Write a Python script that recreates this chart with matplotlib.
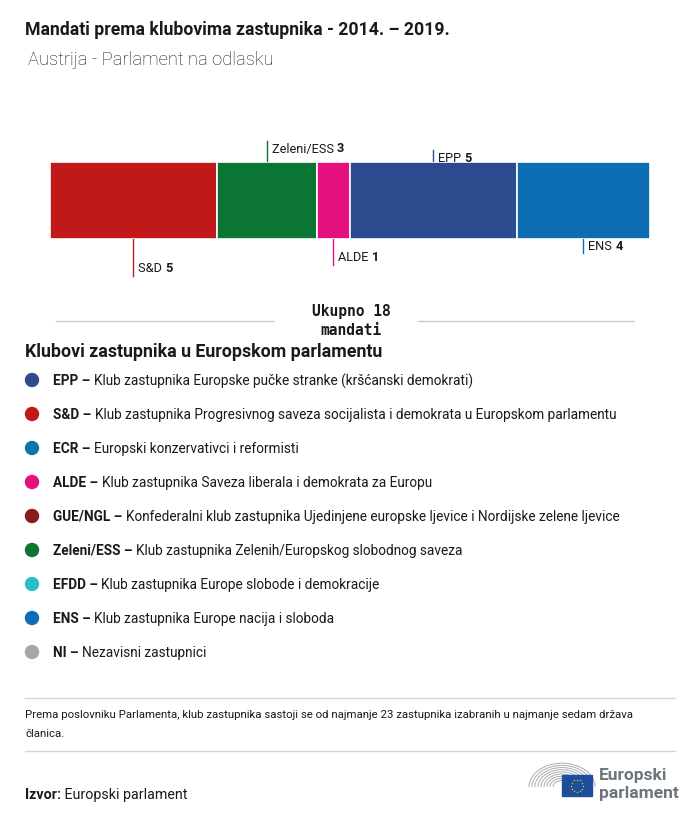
import numpy as np
import matplotlib.pyplot as plt
from matplotlib.patches import Circle, Rectangle, Arc

# podaci
groups = ['S&D', 'Zeleni/ESS', 'ALDE', 'EPP', 'ENS']
seats = [5, 3, 1, 5, 4]
bar_colors = ['#C1191A', '#0B7533', '#E3107E', '#2C4B8E', '#0C6DB3']
label_side = ['below', 'above', 'below', 'above', 'below']
leader_px = [37, 21, 26, 12, 14]

legend_codes = ['EPP', 'S&D', 'ECR', 'ALDE', 'GUE/NGL', 'Zeleni/ESS', 'EFDD', 'ENS', 'NI']
legend_texts = [
    'Klub zastupnika Europske pučke stranke (kršćanski demokrati)',
    'Klub zastupnika Progresivnog saveza socijalista i demokrata u Europskom parlamentu',
    'Europski konzervativci i reformisti',
    'Klub zastupnika Saveza liberala i demokrata za Europu',
    'Konfederalni klub zastupnika Ujedinjene europske ljevice i Nordijske zelene ljevice',
    'Klub zastupnika Zelenih/Europskog slobodnog saveza',
    'Klub zastupnika Europe slobode i demokracije',
    'Klub zastupnika Europe nacija i sloboda',
    'Nezavisni zastupnici',
]
legend_colors = ['#2C4B8E', '#C1191A', '#0C77A3', '#E3107E', '#8E1A17',
                 '#0B7533', '#2FBDC4', '#0C6DB3', '#A6A6A6']

plt.rcParams['font.family'] = ['Roboto', 'DejaVu Sans']
TXT = '#1A1A1A'

fig = plt.figure(figsize=(7, 8.2), dpi=100)
ax = fig.add_axes([0, 0, 1, 1])
ax.set_xlim(0, 700)
ax.set_ylim(820, 0)
ax.axis('off')
renderer = fig.canvas.get_renderer()


def rich(x, y, parts, size, va='center'):
    # nizanje dijelova teksta (normalno/podebljano) jedan za drugim
    for s, w in parts:
        t = ax.text(x, y, s, fontsize=size, fontweight=w, color=TXT, va=va, ha='left')
        x = t.get_window_extent(renderer).x1
    return x


# naslov
ax.text(25, 30, 'Mandati prema klubovima zastupnika - 2014. – 2019.', fontsize=12.7,
        fontweight='bold', color=TXT, va='center')
ax.text(28, 60, 'Austrija - Parlament na odlasku', fontsize=13.2, fontweight='light',
        color=TXT, va='center')

# traka
bx0, bx1, by0, by1 = 50, 650, 163, 240
bax = fig.add_axes([bx0 / 700, 1 - by1 / 820, (bx1 - bx0) / 700, (by1 - by0) / 820])
total = sum(seats)
lefts = np.concatenate([[0], np.cumsum(seats)[:-1]])
bax.barh(0.5, seats, left=lefts, height=1, color=bar_colors, edgecolor='white', linewidth=1.2)
bax.set_xlim(0, total)
bax.set_ylim(0, 1)
bax.axis('off')

px_per_seat = (bx1 - bx0) / total
for g, n, l, c, side, lp in zip(groups, seats, lefts, bar_colors, label_side, leader_px):
    cx = bx0 + (l + n / 2) * px_per_seat
    if side == 'below':
        ax.plot([cx, cx], [by1, by1 + lp], color=c, lw=1)
        ty = by1 + lp - 8
    else:
        ax.plot([cx, cx], [by0, by0 - lp], color=c, lw=1)
        ty = by0 - lp + 7
    rich(cx + 5, ty, [(g + ' ', 'normal'), (str(n), 'bold')], 9.2)

# ukupno
ax.plot([56, 273], [322, 322], color='#CCCCCC', lw=1)
ax.plot([418, 634], [322, 322], color='#CCCCCC', lw=1)
ax.text(351, 321, 'Ukupno %d\nmandati' % total, family='DejaVu Sans Mono', fontsize=10.5,
        fontweight='bold', color=TXT, ha='center', va='center', linespacing=1.3)

# legenda
ax.text(25, 352, 'Klubovi zastupnika u Europskom parlamentu', fontsize=12.8,
        fontweight='bold', color=TXT, va='center')
for i, (code, desc, col) in enumerate(zip(legend_codes, legend_texts, legend_colors)):
    y = 381 + i * 34
    ax.add_patch(Circle((32, y), 6.5, color=col))
    rich(53, y, [(code + ' – ', 'bold'), (desc, 'normal')], 9.8)

# napomena
ax.plot([25, 675], [699, 699], color='#D5D5D5', lw=1)
ax.text(25, 715, 'Prema poslovniku Parlamenta, klub zastupnika sastoji se od najmanje 23 zastupnika '
        'izabranih u najmanje sedam država', fontsize=8.2, color=TXT, va='center')
ax.text(25, 734, 'članica.', fontsize=8.2, color=TXT, va='center')
ax.plot([25, 675], [752, 752], color='#D5D5D5', lw=1)
rich(25, 795, [('Izvor:', 'bold'), (' Europski parlament', 'normal')], 10.3)

# logo
for r in np.arange(9, 35, 3.0):
    ax.add_patch(Arc((562, 788), 2 * r, 2 * r * 0.72, theta1=180, theta2=360,
                     color='#A9ADB0', lw=0.7))
ax.add_patch(Rectangle((562, 776), 30, 21, color='#1B4E9B', zorder=3))
for a in np.linspace(0, 2 * np.pi, 12, endpoint=False):
    ax.plot(577 + 6 * np.cos(a), 786.5 + 6 * np.sin(a), marker='*', ms=1.6,
            color='#FFD617', mew=0, zorder=4)
ax.text(599, 776, 'Europski', fontsize=12.5, fontweight='bold', color='#6B757C', va='center')
ax.text(599, 794, 'parlament', fontsize=12.5, fontweight='bold', color='#6B757C', va='center')

fig.savefig('out.png', dpi=100, facecolor='white')
